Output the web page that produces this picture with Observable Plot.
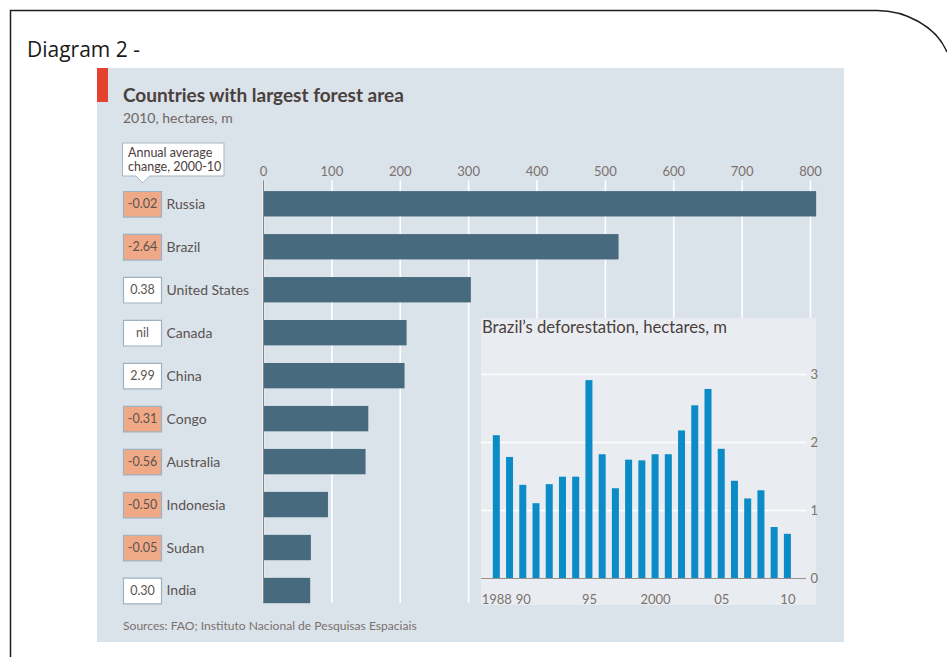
<!DOCTYPE html>
<html>
<head>
<meta charset="utf-8">
<script src="https://cdn.jsdelivr.net/npm/d3@7"></script>
<script src="https://cdn.jsdelivr.net/npm/@observablehq/plot@0.6"></script>
<style>
  html, body { margin: 0; padding: 0; background: #fff; }
  body { width: 947px; height: 657px; position: relative; overflow: hidden; font-family: Lato, "Noto Sans", sans-serif; }
  #panel { position: absolute; left: 97px; top: 68px; width: 747px; height: 574px; background: #dae2ea; }
  #main { position: absolute; left: 97px; top: 68px; }
  #inset { position: absolute; left: 481px; top: 318px; }
  #overlay { position: absolute; left: 0; top: 0; pointer-events: none; }
  svg { overflow: visible; }
</style>
</head>
<body>
<div id="panel"></div>
<div id="main"></div>
<div id="inset"></div>
<svg id="overlay" width="947" height="657">
  <path d="M10.5,657 L10.5,10.5 L877,10.5 C905,10.5 936,26 947,52" fill="none" stroke="#1e1e1e" stroke-width="1.5"/>
  <text x="27" y="57" font-family="'Open Sans', sans-serif" font-size="21" fill="#1a1a1a">Diagram 2 -</text>
  <rect x="97" y="68" width="11" height="34" fill="#e5412f"/>
  <text x="123" y="102" font-family="Lato, sans-serif" font-weight="700" font-size="19" fill="#4a403d">Countries with largest forest area</text>
  <text x="123" y="123" font-family="Lato, sans-serif" font-size="14" fill="#6f6662">2010, hectares, m</text>
  <path d="M122.5,143 H224 V176 H149.5 L142.7,183 L136,176 H122.5 Z" fill="#fff" stroke="#a7b6c3" stroke-width="1"/>
  <text font-family="Lato, sans-serif" font-size="12.5" fill="#4a403d">
    <tspan x="128" y="157">Annual average</tspan>
    <tspan x="128" y="170.5">change, 2000-10</tspan>
  </text>
  <text x="482" y="333" font-family="Lato, sans-serif" font-size="16.7" fill="#4a403d">Brazil’s deforestation, hectares, m</text>
  <text x="123" y="630" font-family="Lato, sans-serif" font-size="12.1" fill="#7a716e">Sources: FAO; Instituto Nacional de Pesquisas Espaciais</text>
</svg>
<script>
// ---- Data: main chart ----
const countries = ["Russia", "Brazil", "United States", "Canada", "China", "Congo", "Australia", "Indonesia", "Sudan", "India"];
const forestArea = [809, 520, 304, 210, 207, 154, 150, 95, 70, 69];
const changeLabels = ["-0.02", "-2.64", "0.38", "nil", "2.99", "-0.31", "-0.56", "-0.50", "-0.05", "0.30"];
const changeValues = [-0.02, -2.64, 0.38, 0, 2.99, -0.31, -0.56, -0.50, -0.05, 0.30];
const areaTicks = [0, 100, 200, 300, 400, 500, 600, 700, 800];

// ---- Data: inset chart ----
const years = [1988, 1989, 1990, 1991, 1992, 1993, 1994, 1995, 1996, 1997, 1998, 1999, 2000, 2001, 2002, 2003, 2004, 2005, 2006, 2007, 2008, 2009, 2010];
const deforestation = [2.10, 1.78, 1.37, 1.10, 1.38, 1.49, 1.49, 2.91, 1.82, 1.32, 1.74, 1.73, 1.82, 1.82, 2.17, 2.54, 2.78, 1.90, 1.43, 1.17, 1.29, 0.75, 0.65];
const yearTickValues = [1988, 1990, 1995, 2000, 2005, 2010];
const yearTickLabels = ["1988", "90", "95", "2000", "05", "10"];
const defTicks = [0, 1, 2, 3];

const rows = countries.map((c, i) => ({country: c, area: forestArea[i], label: changeLabels[i], change: changeValues[i]}));
const defRows = years.map((y, i) => ({year: y, value: deforestation[i]}));
const yearTicks = yearTickValues.map((y, i) => ({year: y, label: yearTickLabels[i]}));

const boxSymbol = { draw(ctx) { ctx.rect(-19, -12.8, 38, 25.6); } };

const main = Plot.plot({
  width: 747, height: 574,
  marginLeft: 166, marginRight: 34, marginTop: 114.3, marginBottom: 30,
  style: {background: "transparent", fontFamily: "Lato, sans-serif", maxWidth: "none"},
  x: {domain: [0, 800], axis: null},
  y: {domain: countries, paddingInner: 0.41, paddingOuter: 0.205, round: false, axis: null},
  marks: [
    Plot.ruleX(areaTicks, {x: d => d, stroke: "#ffffff", strokeWidth: 1.6, insetTop: -2, insetBottom: 9}),
    Plot.barX(rows, {y: "country", x: "area", fill: "#486a7e"}),
    Plot.ruleX([0], {stroke: "#8b8580", strokeWidth: 1, insetTop: -2, insetBottom: 9}),
    Plot.text(areaTicks, {x: d => d, text: d => String(d), frameAnchor: "top", lineAnchor: "bottom", dy: -6.6, fill: "#7b716d", fontSize: 13}),
    Plot.dot(rows, {y: "country", frameAnchor: "left", dx: -121, symbol: boxSymbol, r: 10,
      fill: d => d.change < 0 ? "#f0a986" : "#ffffff", stroke: "#9fb2c2", strokeWidth: 1.2}),
    Plot.text(rows, {y: "country", text: "label", frameAnchor: "left", dx: -121, textAnchor: "middle", fill: "#5b5350", fontSize: 12.5}),
    Plot.text(rows, {y: "country", text: "country", frameAnchor: "left", dx: -97, textAnchor: "start", fill: "#5b5350", fontSize: 14})
  ]
});
document.getElementById("main").append(main);

const inset = Plot.plot({
  width: 335, height: 287,
  marginLeft: 8.7, marginRight: 22, marginTop: 22, marginBottom: 27,
  style: {background: "#e9edf1", fontFamily: "Lato, sans-serif", maxWidth: "none"},
  x: {type: "band", domain: years, paddingInner: 0.47, paddingOuter: 0.235, round: false, axis: null},
  y: {domain: [0, 3.5], axis: null},
  marks: [
    Plot.ruleY([1, 2, 3], {y: d => d, stroke: "#ffffff", strokeWidth: 1.6, insetLeft: -8.7, insetRight: -12}),
    Plot.barY(defRows, {x: "year", y: "value", fill: "#0b8cc6"}),
    Plot.ruleY([0], {stroke: "#9b918c", strokeWidth: 1.2, insetLeft: -8.7, insetRight: -12}),
    Plot.text(defTicks, {y: d => d, text: d => String(d), frameAnchor: "right", dx: 16, textAnchor: "start", fill: "#7b716d", fontSize: 13}),
    Plot.text(yearTicks, {x: "year", text: "label", frameAnchor: "bottom", lineAnchor: "top", dy: 16, fill: "#7b716d", fontSize: 13})
  ]
});
document.getElementById("inset").append(inset);
</script>
</body>
</html>
